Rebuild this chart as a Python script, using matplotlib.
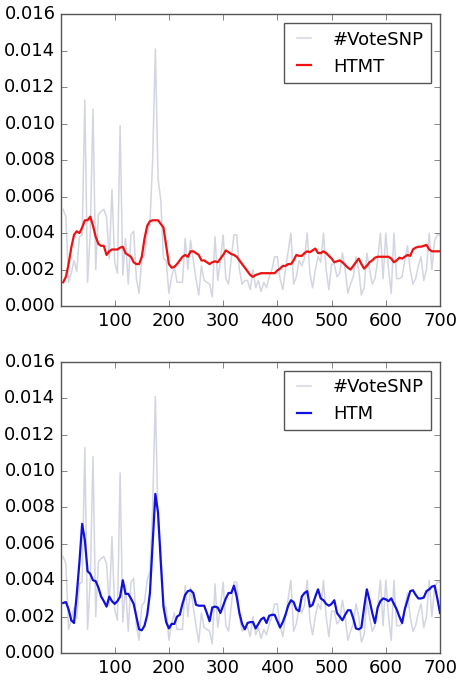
import numpy as np
import matplotlib
matplotlib.use("Agg")
import matplotlib.pyplot as plt

plt.style.use("classic")

# x positions (step 5)
x = np.arange(5, 705, 5)

# #VoteSNP (x1e-3)
vote = [5.3, 4.9, 1.3, 1.8, 2.5, 1.9, 3.8, 3.9, 11.3, 1.3, 4.0, 10.8, 2.0, 5.0, 5.2, 5.3, 4.9, 2.6, 6.4, 2.4,
        1.8, 9.9, 1.7, 3.7, 1.2, 3.9, 4.1, 1.5, 0.7, 2.6, 2.8, 4.0, 4.5, 8.0, 14.1, 7.0, 5.8, 2.6, 2.5, 0.7,
        1.6, 2.2, 1.3, 1.3, 1.3, 3.7, 2.0, 3.6, 2.5, 1.5, 0.6, 2.2, 1.4, 1.3, 1.2, 0.5, 3.8, 1.4, 2.5, 3.9,
        1.5, 1.2, 2.6, 3.9, 3.9, 2.0, 1.2, 1.4, 1.4, 0.9, 2.0, 1.0, 1.4, 0.8, 1.3, 1.0, 1.6, 2.0, 2.7, 2.7,
        1.5, 0.9, 2.0, 3.0, 4.0, 1.2, 1.6, 2.5, 2.2, 2.6, 4.0, 1.8, 1.0, 2.0, 2.7, 2.4, 4.0, 2.0, 0.9, 2.3,
        2.3, 1.6, 1.8, 2.9, 2.0, 0.7, 1.2, 1.6, 2.7, 2.0, 0.6, 1.0, 2.9, 2.0, 1.2, 1.5, 2.5, 4.0, 1.5, 4.0,
        2.0, 0.7, 4.0, 1.5, 1.5, 1.6, 2.5, 3.3, 2.0, 1.2, 1.5, 2.2, 2.7, 1.4, 2.0, 4.0, 2.0, 3.6, 3.9, 3.9]

htmt = [1.3, 1.6, 2.3, 3.2, 3.9, 4.1, 4.0, 4.3, 4.7, 4.7, 4.9, 4.4, 3.8, 3.4, 3.3, 3.3, 2.8, 3.0, 3.1, 3.1,
        3.1, 3.2, 3.25, 2.9, 2.8, 2.7, 2.4, 2.3, 2.3, 2.7, 3.7, 4.4, 4.65, 4.7, 4.7, 4.7, 4.5, 4.3, 3.3, 2.3,
        2.1, 2.15, 2.3, 2.5, 2.7, 2.8, 2.7, 3.0, 3.0, 2.9, 2.8, 2.5, 2.5, 2.4, 2.3, 2.4, 2.45, 2.4, 2.6, 2.8,
        3.05, 2.95, 2.85, 2.8, 2.7, 2.5, 2.3, 2.1, 1.9, 1.7, 1.6, 1.7, 1.75, 1.8, 1.8, 1.8, 1.8, 1.8, 1.8, 1.95,
        2.05, 2.2, 2.2, 2.3, 2.3, 2.5, 2.8, 2.75, 2.75, 2.9, 3.0, 2.95, 3.05, 3.15, 2.9, 2.9, 3.0, 2.9, 2.75, 2.6,
        2.4, 2.45, 2.5, 2.4, 2.25, 2.1, 2.0, 2.2, 2.4, 2.6, 2.3, 2.05, 2.2, 2.4, 2.5, 2.65, 2.7, 2.7, 2.7, 2.7,
        2.7, 2.6, 2.4, 2.5, 2.65, 2.6, 2.7, 2.8, 2.75, 3.1, 3.2, 3.25, 3.25, 3.3, 3.35, 3.1, 3.0, 3.0, 3.0, 3.0]

htm = [2.75, 2.8, 2.4, 1.8, 1.65, 3.2, 5.0, 7.1, 6.2, 4.5, 4.35, 4.0, 3.95, 3.6, 3.1, 2.85, 2.55, 3.1, 2.85, 2.7,
       2.85, 3.1, 4.0, 3.25, 3.25, 3.0, 2.7, 2.0, 1.3, 1.25, 1.5, 2.1, 3.3, 6.0, 8.75, 7.7, 5.0, 2.55, 1.7, 1.35,
       1.6, 1.6, 2.0, 2.1, 2.7, 3.2, 3.4, 3.45, 3.3, 2.65, 2.6, 2.6, 2.6, 2.2, 1.75, 2.5, 2.55, 2.5, 2.2, 2.6,
       3.0, 3.3, 3.3, 3.7, 3.1, 2.2, 1.6, 1.3, 1.65, 1.7, 1.7, 1.35, 1.6, 1.85, 1.95, 1.65, 2.05, 2.1, 2.1, 1.75,
       1.4, 1.7, 2.1, 2.6, 2.9, 2.8, 2.4, 2.3, 3.1, 3.3, 3.4, 2.55, 2.65, 3.1, 3.5, 3.0, 2.9, 2.7, 2.6, 2.7,
       2.9, 2.2, 2.0, 1.8, 2.1, 2.35, 2.35, 1.9, 1.35, 1.3, 1.4, 2.5, 3.5, 2.9, 2.2, 1.65, 2.5, 2.85, 3.0, 2.95,
       2.85, 3.0, 2.7, 2.4, 2.0, 1.65, 2.4, 2.9, 3.4, 3.45, 3.2, 3.0, 3.0, 3.05, 3.4, 3.5, 3.65, 3.7, 3.0, 2.2]

yticks = [0.000, 0.002, 0.004, 0.006, 0.008, 0.010, 0.012, 0.014, 0.016]
xticks = [100, 200, 300, 400, 500, 600, 700]

vote = np.array(vote) / 1000
htmt = np.array(htmt) / 1000
htm = np.array(htm) / 1000

plt.rcParams['font.size'] = 13
plt.rcParams['axes.edgecolor'] = '#555555'

fig = plt.figure(figsize=(4.6, 6.8), dpi=100, facecolor='white')
ax1 = fig.add_axes([0.1326, 0.55, 0.824, 0.429])
ax2 = fig.add_axes([0.1326, 0.0397, 0.824, 0.428])

for ax, series, color, name in [(ax1, htmt, '#ee1111', 'HTMT'), (ax2, htm, '#1111dd', 'HTM')]:
    ax.plot(x, vote, color='#d3d5e2', lw=1.1, label='#VoteSNP')
    ax.plot(x, series, color=color, lw=1.6, label=name)
    ax.set_xlim(1, 700)
    ax.set_ylim(0, 0.016)
    ax.set_xticks(xticks)
    ax.set_yticks(yticks)
    ax.set_yticklabels(['%.3f' % t for t in yticks])
    ax.tick_params(labelsize=13, color='#555555')
    leg = ax.legend(loc='upper right', fontsize=13, handlelength=1.4, handletextpad=0.9)
    leg.get_frame().set_edgecolor('#555555')

fig.savefig('out.png', dpi=100, facecolor='white')
